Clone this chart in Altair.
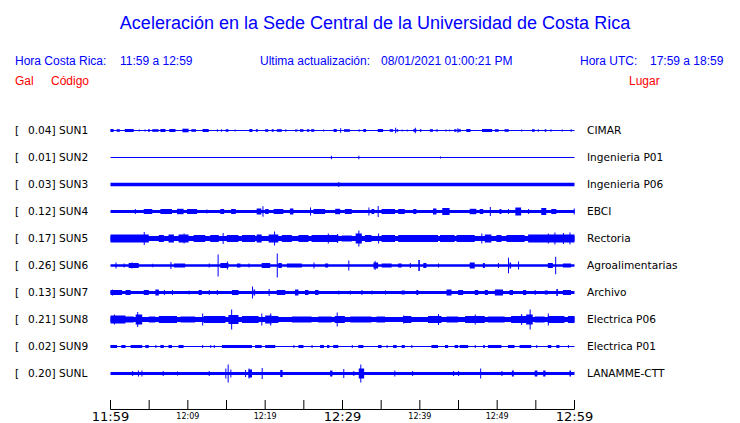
import altair as alt
import pandas as pd

BLUE = "#0000ff"
RED = "#ff0000"

stations = ["SUN1", "SUN2", "SUN3", "SUN4", "SUN5", "SUN6", "SUN7", "SUN8", "SUN9", "SUNL"]
peak_gal = ["0.04", "0.01", "0.03", "0.12", "0.17", "0.26", "0.13", "0.21", "0.02", "0.20"]
places = ["CIMAR", "Ingenieria P01", "Ingenieria P06", "EBCI", "Rectoria",
          "Agroalimentarias", "Archivo", "Electrica P06", "Electrica P01", "LANAMME-CTT"]
# background noise level of each trace (relative amplitude units)
base_amp = [0.5, 0.5, 1.7, 1.6, 2.5, 1.3, 1.4, 2.5, 0.5, 1.4]

# events: (start minute, end minute, half amplitude) -- minutes after 11:59
sun1_events = [(0.0, 0.4, 1.5), (0.8, 1.2, 1.3), (1.85, 3.0, 1.5), (3.65, 3.65, 1), (4.4, 4.4, 1),
               (4.85, 5.1, 1.3), (5.4, 6.2, 1.3), (6.45, 7.1, 1.5), (7.6, 8.4, 1.5), (9.3, 10.1, 1.8),
               (10.45, 11.05, 1.3), (11.9, 12.7, 1.5), (13.75, 13.75, 1.3), (14.3, 14.3, 1.3),
               (14.9, 15.25, 1.3), (16.05, 16.05, 1), (17.95, 18.35, 1.5), (18.8, 19.05, 1.3),
               (20.0, 20.4, 1.3), (20.85, 21.1, 1.3), (21.5, 22.15, 1.3), (22.6, 22.6, 1.3),
               (23.85, 24.2, 1), (24.5, 24.95, 1.3), (25.4, 25.7, 1.3), (25.95, 26.35, 1.3),
               (27.5, 27.5, 1), (28.85, 29.25, 1.5), (29.7, 29.7, 2.2), (30.2, 30.95, 1.3),
               (32.05, 32.25, 1), (32.7, 33.05, 1.5), (34.55, 35.25, 1.5), (36.1, 36.55, 1.3),
               (36.8, 36.8, 2.7), (37.0, 37.2, 1.3), (37.65, 37.65, 1), (38.3, 38.3, 1),
               (39.15, 39.55, 1.3), (39.35, 39.35, 2.8), (40.0, 40.2, 1.3), (41.3, 41.7, 1.3),
               (42.05, 42.35, 1), (43.3, 43.45, 1), (43.8, 43.8, 1), (44.45, 44.75, 1.3),
               (44.85, 44.85, 2.3), (44.95, 45.3, 1.3), (46.0, 46.55, 1.5), (48.05, 49.35, 1.5),
               (49.7, 50.2, 1.3), (50.95, 51.5, 1.3), (53.1, 53.1, 1), (54.5, 54.85, 1.3),
               (55.25, 55.25, 1.3), (56.15, 56.35, 1.3), (56.9, 56.9, 1.3), (58.35, 58.35, 1),
               (59.5, 59.5, 1.3)]
sun2_events = [(28.5, 28.5, 1.7), (32.05, 32.05, 1.7), (42.6, 42.6, 1.0)]
sun3_events = [(29.45, 29.45, 2.6)]
sun4_events = [(3.15, 3.15, 2.5), (4.3, 5.4, 2.5), (6.45, 7.95, 2.5), (8.6, 9.45, 2.7), (9.9, 11.2, 2.5),
               (12.4, 12.4, 2), (14.2, 14.7, 2.5), (15.6, 16.2, 2.5), (18.9, 19.5, 3), (19.65, 19.65, 5.3),
               (20.0, 20.45, 2.5), (21.1, 22.35, 2.5), (23.2, 23.65, 3), (25.8, 25.8, 4),
               (26.25, 27.75, 2.5), (29.05, 29.7, 2.7), (30.3, 31.2, 2.5), (33.35, 33.35, 4),
               (33.75, 34.1, 2.5), (34.55, 34.55, 5.5), (35.05, 36.8, 2.5), (37.2, 38.05, 2.5),
               (39.15, 39.55, 2.5), (41.7, 42.15, 3), (42.9, 43.85, 3.5), (46.45, 47.3, 2.7),
               (47.75, 48.2, 2.5), (49.05, 49.05, 4.5), (50.3, 50.55, 2.5), (51.4, 51.4, 2.5),
               (52.35, 53.1, 4), (54.0, 54.0, 2.5), (55.7, 56.35, 3.5), (57.0, 57.65, 2.5),
               (59.9, 59.9, 3)]
sun5_events = [(0.0, 4.95, 4), (4.3, 4.3, 6.5), (6.25, 6.9, 3.5), (7.5, 8.2, 4), (8.8, 10.1, 4),
               (9.45, 9.45, 5), (10.75, 12.25, 3.5), (12.9, 14.0, 3.5), (14.5, 14.5, 5.5),
               (15.05, 16.55, 3.5), (17.0, 18.7, 3.5), (18.9, 19.55, 4), (20.45, 21.7, 4),
               (21.15, 21.15, 7), (22.15, 23.45, 3.5), (24.3, 25.6, 3.5), (26.0, 29.45, 3.5),
               (28.1, 28.1, 5), (29.3, 29.3, 4.5), (29.9, 31.2, 3), (31.7, 32.5, 5), (32.05, 32.05, 8),
               (32.9, 33.75, 3.5), (34.6, 34.6, 5), (35.05, 36.8, 3.5), (37.2, 42.35, 3.5),
               (42.6, 44.5, 3.5), (44.75, 47.1, 3.5), (47.95, 47.95, 5), (48.4, 49.25, 4),
               (49.9, 50.55, 3.5), (51.2, 53.55, 3.5), (54.0, 60.0, 4), (56.55, 56.55, 5),
               (57.4, 57.4, 6), (58.5, 58.5, 5.5), (59.35, 59.35, 6)]
sun6_events = [(0.65, 0.65, 3), (1.7, 1.7, 2), (2.35, 3.65, 2.5), (2.7, 2.7, 3), (5.4, 5.4, 1.8),
               (7.75, 7.75, 3.5), (8.2, 9.65, 2), (12.7, 12.7, 2), (13.85, 13.85, 11),
               (14.2, 15.25, 2.5), (15.05, 15.05, 4), (16.35, 16.8, 2), (17.85, 17.85, 2),
               (19.55, 20.65, 2.5), (21.5, 21.5, 12), (21.7, 22.15, 2.5), (22.8, 24.75, 2),
               (26.25, 26.25, 3), (27.75, 28.15, 2), (30.75, 30.75, 5), (34.0, 34.6, 3),
               (34.15, 34.15, 4.5), (35.05, 36.35, 2), (37.2, 37.65, 2), (38.7, 38.7, 2.5),
               (39.8, 40.0, 5.5), (40.45, 40.85, 2.5), (42.35, 42.35, 2), (46.45, 47.1, 3),
               (48.15, 48.4, 2.5), (50.1, 50.1, 2.5), (51.4, 51.4, 7.8), (51.6, 51.8, 3),
               (52.7, 52.7, 4), (56.55, 57.2, 2.5), (57.5, 57.5, 8.7), (58.5, 59.55, 2)]
sun7_events = [(0.0, 1.5, 2.5), (0.2, 0.2, 3), (1.95, 2.6, 2.5), (4.3, 4.95, 2.5), (5.8, 6.25, 3),
               (6.9, 6.9, 2.5), (7.95, 7.95, 2.5), (10.1, 10.1, 2), (11.4, 11.8, 2.5), (12.7, 12.7, 2.5),
               (13.75, 13.75, 2.5), (15.7, 16.55, 2.5), (18.3, 18.3, 6), (18.5, 18.7, 3),
               (20.45, 20.45, 3.5), (21.5, 22.6, 2.5), (23.85, 24.3, 3), (25.15, 25.6, 2.5),
               (26.45, 26.9, 2.5), (29.45, 29.45, 2), (30.95, 30.95, 2), (32.45, 32.45, 2.5),
               (33.75, 33.75, 2), (35.5, 35.5, 2), (37.65, 38.05, 2), (39.55, 39.8, 2.5),
               (43.45, 44.1, 3), (44.95, 45.6, 2.5), (47.1, 47.55, 2.5), (48.4, 48.8, 2.5),
               (49.7, 50.75, 3), (51.6, 52.05, 2.5), (53.35, 53.75, 2.5), (54.85, 54.85, 2.5),
               (56.15, 56.55, 2), (57.65, 57.85, 3.5), (58.5, 59.55, 2.5)]
sun8_events = [(0.0, 1.95, 4), (0.45, 0.45, 5), (1.95, 3.0, 3), (3.25, 4.1, 5), (3.45, 3.45, 7.5),
               (4.95, 5.8, 3), (6.25, 8.6, 3.5), (9.05, 10.95, 3), (11.85, 11.85, 6), (12.05, 14.85, 3.5),
               (15.25, 16.55, 4.5), (15.6, 15.6, 10), (17.0, 19.15, 3.5), (19.5, 19.5, 6),
               (20.0, 20.85, 4), (20.65, 20.65, 6), (20.85, 21.7, 3.5), (23.45, 26.0, 3),
               (26.85, 28.6, 3), (29.0, 30.3, 3.5), (29.25, 29.25, 7), (31.0, 33.75, 3),
               (34.4, 35.5, 3), (37.85, 38.9, 3.5), (37.85, 37.85, 4), (41.05, 42.8, 3.5),
               (42.35, 42.35, 5.5), (43.45, 44.95, 3), (45.85, 48.4, 3.5), (47.1, 47.1, 5),
               (48.8, 50.95, 3), (51.8, 54.0, 3.5), (53.1, 53.1, 5.5), (53.75, 54.6, 5),
               (54.2, 54.2, 10), (54.85, 56.15, 3), (56.55, 58.7, 3.5), (56.55, 56.55, 6),
               (59.15, 60.0, 3.5)]
sun9_events = [(0.0, 0.85, 1.5), (1.4, 1.95, 1.5), (2.6, 4.1, 1.5), (4.5, 4.95, 1.5), (5.8, 5.8, 1.5),
               (6.45, 6.9, 1.5), (7.5, 7.95, 1.5), (8.8, 9.45, 1.5), (11.85, 11.85, 1.5),
               (12.9, 12.9, 1.5), (13.35, 13.35, 1.5), (14.4, 18.3, 1.5), (18.7, 19.55, 1.5),
               (20.0, 21.3, 1.5), (23.65, 23.65, 1.5), (24.3, 24.95, 1.5), (26.0, 26.0, 1.5),
               (27.1, 27.6, 1.5), (28.0, 28.3, 1.5), (28.8, 29.45, 1.5), (31.2, 31.2, 1.5),
               (32.05, 32.7, 1.5), (34.6, 35.05, 1.5), (35.7, 35.7, 1.5), (36.55, 37.0, 1.5),
               (37.65, 38.05, 1.5), (38.9, 38.9, 1.5), (41.5, 42.35, 1.5), (43.25, 43.65, 1.5),
               (44.5, 44.95, 1.5), (45.15, 46.25, 1.5), (47.1, 47.1, 1.5), (48.2, 48.4, 1.5),
               (48.8, 50.55, 1.5), (51.4, 52.25, 1.5), (52.9, 54.4, 1.5), (55.05, 55.05, 1.5),
               (56.55, 57.0, 1.5), (57.65, 58.05, 1.5), (59.15, 59.15, 1.5)]
sunl_events = [(2.8, 2.8, 2.5), (3.55, 3.55, 3), (4.0, 4.0, 3), (6.75, 6.75, 2.5), (8.6, 8.6, 2),
               (12.7, 12.7, 2.5), (14.85, 14.85, 5), (15.15, 15.15, 9), (15.5, 15.5, 4),
               (17.4, 17.4, 3.5), (17.85, 18.3, 4), (17.85, 17.85, 5), (19.55, 19.55, 5.5),
               (21.95, 22.25, 3.5), (28.4, 28.7, 3), (30.1, 30.1, 4.5), (31.4, 31.4, 2.5),
               (32.1, 32.8, 5), (32.3, 32.3, 9), (36.7, 36.7, 3), (39.0, 39.0, 2.5), (44.3, 44.3, 2.5),
               (44.95, 44.95, 2.5), (47.8, 47.8, 5), (50.55, 50.55, 2.5), (51.9, 52.15, 3),
               (54.85, 55.2, 3), (55.95, 56.25, 3), (59.35, 59.55, 3)]

all_events = [sun1_events, sun2_events, sun3_events, sun4_events, sun5_events,
              sun6_events, sun7_events, sun8_events, sun9_events, sunl_events]

# time axis (minutes after 11:59)
tick_minutes = [0, 5, 10, 15, 20, 25, 30, 35, 40, 45, 50, 55, 60]
big_label_minutes = [0, 30, 60]
big_labels = ["11:59", "12:29", "12:59"]
small_label_minutes = [10, 20, 40, 50]
small_labels = ["12:09", "12:19", "12:39", "12:49"]

SLOT = 27.0  # amplitude units between neighbouring traces

# ---------------- tables ----------------
base_df = pd.DataFrame({
    "idx": range(len(stations)),
    "amp": base_amp,
})
base_df["t0"] = 0.0
base_df["t1"] = 60.0
base_df["lo"] = base_df["idx"] * SLOT - base_df["amp"]
base_df["hi"] = base_df["idx"] * SLOT + base_df["amp"]

rows = []
for i, evs in enumerate(all_events):
    for (a, b, h) in evs:
        if b - a < 0.13:
            b = a + 0.13
        rows.append({"idx": i, "t0": a, "t1": b, "lo": i * SLOT - h, "hi": i * SLOT + h})
ev_df = pd.DataFrame(rows)

lab_df = pd.DataFrame({
    "pos": [i * SLOT for i in range(len(stations))],
    "left": [f"{g}] {s}" for g, s in zip(peak_gal, stations)],
    "place": places,
})

xs = alt.Scale(domain=[0, 60], range=[102.5, 566.5], zero=False, nice=False)
ys = alt.Scale(domain=[0, 9 * SLOT], range=[122.5, 365.5], zero=False, nice=False)

base_layer = alt.Chart(base_df).mark_rect(color=BLUE).encode(
    x=alt.X("t0:Q", scale=xs, axis=None), x2="t1:Q",
    y=alt.Y("lo:Q", scale=ys, axis=None), y2="hi:Q")

ev_layer = alt.Chart(ev_df).mark_rect(color=BLUE).encode(
    x=alt.X("t0:Q", scale=xs, axis=None), x2="t1:Q",
    y=alt.Y("lo:Q", scale=ys, axis=None), y2="hi:Q")

lab_font = "DejaVu Sans"
bracket = alt.Chart(lab_df).mark_text(align="left", baseline="middle", font=lab_font,
                                      fontSize=10.6, color="black").encode(
    x=alt.value(7), y=alt.Y("pos:Q", scale=ys, axis=None), text=alt.value("["))
left_lab = alt.Chart(lab_df).mark_text(align="left", baseline="middle", font=lab_font,
                                       fontSize=10.6, color="black").encode(
    x=alt.value(20), y=alt.Y("pos:Q", scale=ys, axis=None), text="left:N")
right_lab = alt.Chart(lab_df).mark_text(align="left", baseline="middle", font=lab_font,
                                        fontSize=10.6, color="black").encode(
    x=alt.value(579), y=alt.Y("pos:Q", scale=ys, axis=None), text="place:N")

# time axis
axis_df = pd.DataFrame({"t0": [0.0], "t1": [60.0]})
axis_line = alt.Chart(axis_df).mark_rule(color="black", strokeWidth=1).encode(
    x=alt.X("t0:Q", scale=xs, axis=None), x2="t1:Q", y=alt.value(401.5))
ticks_df = pd.DataFrame({"t": tick_minutes})
ticks = alt.Chart(ticks_df).mark_rule(color="black", strokeWidth=1).encode(
    x=alt.X("t:Q", scale=xs, axis=None), y=alt.value(392), y2=alt.value(401.5))
big_df = pd.DataFrame({"t": big_label_minutes, "lab": big_labels})
big_txt = alt.Chart(big_df).mark_text(align="center", baseline="alphabetic", font=lab_font,
                                      fontSize=13, color="black").encode(
    x=alt.X("t:Q", scale=xs, axis=None), y=alt.value(413), text="lab:N")
small_df = pd.DataFrame({"t": small_label_minutes, "lab": small_labels})
small_txt = alt.Chart(small_df).mark_text(align="center", baseline="alphabetic", font=lab_font,
                                          fontSize=8, color="black").encode(
    x=alt.X("t:Q", scale=xs, axis=None), y=alt.value(411), text="lab:N")

# header texts
hfont = "Liberation Sans"
def txt(s, x, y, size, color, align="left"):
    return alt.Chart(pd.DataFrame({"s": [s]})).mark_text(
        align=align, baseline="alphabetic", font=hfont, fontSize=size, color=color).encode(
        x=alt.value(x), y=alt.value(y), text="s:N")

title = txt("Aceleración en la Sede Central de la Universidad de Costa Rica", 367, 21, 18, BLUE, "center")
h1 = txt("Hora Costa Rica:", 7, 57, 12, BLUE)
h2 = txt("11:59 a 12:59", 112, 57, 12, BLUE)
h3 = txt("Ultima actualización:", 252, 57, 12, BLUE)
h4 = txt("08/01/2021 01:00:21 PM", 373, 57, 12, BLUE)
h5 = txt("Hora UTC:", 572, 57, 12, BLUE)
h6 = txt("17:59 a 18:59", 642, 57, 12, BLUE)
r1 = txt("Gal", 7, 77, 12, RED)
r2 = txt("Código", 43, 77, 12, RED)
r3 = txt("Lugar", 621, 77, 12, RED)

chart = alt.layer(
    base_layer, ev_layer, bracket, left_lab, right_lab,
    axis_line, ticks, big_txt, small_txt,
    title, h1, h2, h3, h4, h5, h6, r1, r2, r3,
).properties(
    width=724, height=415,
    autosize=alt.AutoSizeParams(type="none"),
    padding=0,
    background="white",
).configure_view(stroke=None)

chart.save("out.html", embed_options={"renderer": "svg", "actions": False})
